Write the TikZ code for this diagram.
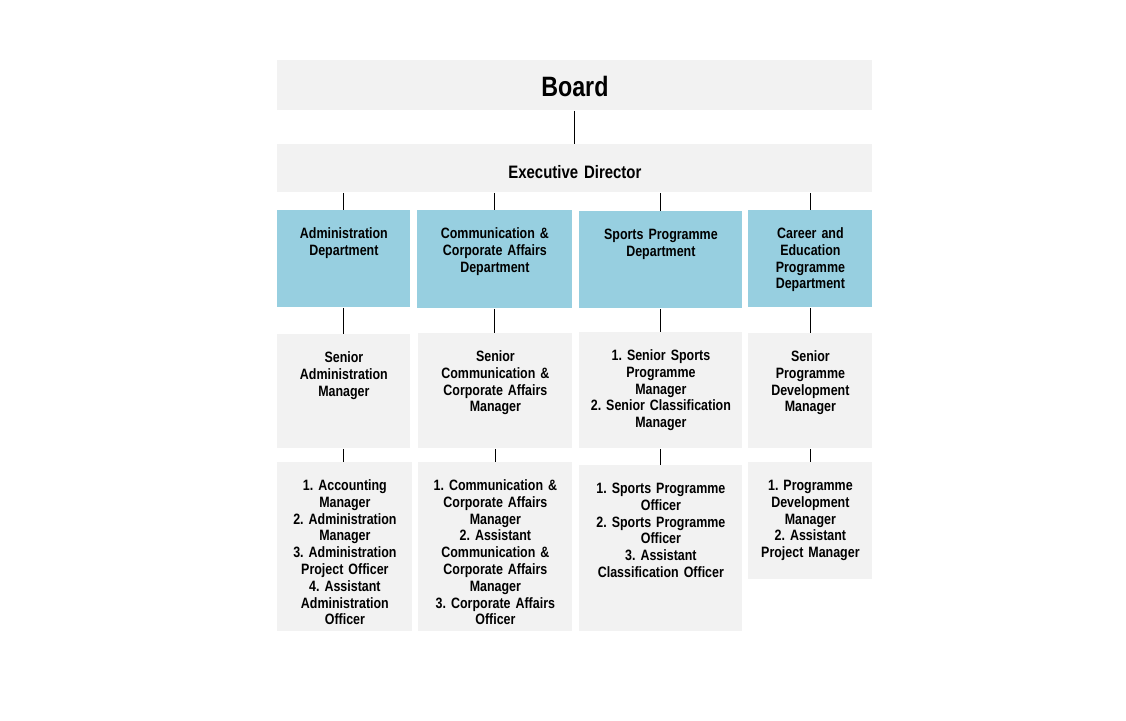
\documentclass[tikz,border=0pt]{standalone}
\usepackage{fontspec}
\setmainfont{Liberation Sans}[FakeStretch=0.83, WordSpace=0.75]
\frenchspacing
\definecolor{deptblue}{RGB}{151,207,224}
\definecolor{cellgray}{RGB}{242,242,242}

\tikzset{
  cell/.style={fill=cellgray, anchor=north west, inner sep=0pt, align=center,
    font=\fontsize{7.5}{8.4}\selectfont\bfseries, text height=14pt},
  dept/.style={cell, fill=deptblue},
  link/.style={draw=black, line width=0.5pt}
}

\begin{document}
\begin{tikzpicture}[x=0.5pt, y=-0.5pt]
      \useasboundingbox (0,0) rectangle (1126,720);

      % top of the chart
      \node[cell, text width=297.5pt, text height=18pt, text depth=7pt,
        font=\fontsize{14}{17}\selectfont\bfseries] (board) at (277,60) {Board};
      \node[cell, text width=297.5pt, text height=17pt, text depth=7pt,
        font=\fontsize{9}{11}\selectfont\bfseries] (ed) at (277,144) {Executive Director};

      % departments
      \node[dept, text width=66.5pt, text depth=34.5pt] (adm) at (277,210) {Administration\\Department};
      \node[dept, text width=77.5pt, text depth=35pt] (com) at (417,210) {Communication \&\\Corporate Affairs\\Department};
      \node[dept, text width=81.5pt, text depth=34.5pt] (spo) at (579,211) {Sports Programme\\Department};
      \node[dept, text width=62pt, text depth=34.5pt] (car) at (748,210) {Career and\\Education\\Programme\\Department};

      % senior managers
      \node[cell, text width=66.5pt, text depth=43pt] (admsen) at (277,334) {Senior\\Administration\\Manager};
      \node[cell, text width=77pt, text depth=43.5pt] (comsen) at (418,333) {Senior\\Communication \&\\Corporate Affairs\\Manager};
      \node[cell, text width=81.5pt, text depth=44pt] (sposen) at (579,332) {1. Senior Sports\\Programme\\Manager\\2. Senior Classification\\Manager};
      \node[cell, text width=62pt, text depth=43.5pt] (carsen) at (748,333) {Senior\\Programme\\Development\\Manager};

      % staff
      \node[cell, text width=67.5pt, text depth=70.5pt] (admsub) at (277,462) {1. Accounting\\Manager\\2. Administration\\Manager\\3. Administration\\Project Officer\\4. Assistant\\Administration\\Officer};
      \node[cell, text width=77pt, text depth=70.5pt] (comsub) at (418,462) {1. Communication \&\\Corporate Affairs\\Manager\\2. Assistant\\Communication \&\\Corporate Affairs\\Manager\\3. Corporate Affairs\\Officer};
      \node[cell, text width=81.5pt, text depth=69pt] (sposub) at (579,465) {1. Sports Programme\\Officer\\2. Sports Programme\\Officer\\3. Assistant\\Classification Officer};
      \node[cell, text width=62pt, text depth=44.5pt] (carsub) at (748,462) {1. Programme\\Development\\Manager\\2. Assistant\\Project Manager};

      \draw[link] (board.south) -- (board.south |- ed.north);
      \foreach \d/\s/\b in {adm/admsen/admsub, com/comsen/comsub, spo/sposen/sposub, car/carsen/carsub} {
        \draw[link] (ed.south -| \d.north) -- (\d.north);
        \draw[link] (\d.south) -- (\d.south |- \s.north);
        \draw[link] (\s.south) -- (\s.south |- \b.north);
      }
    \end{tikzpicture}
\end{document}
